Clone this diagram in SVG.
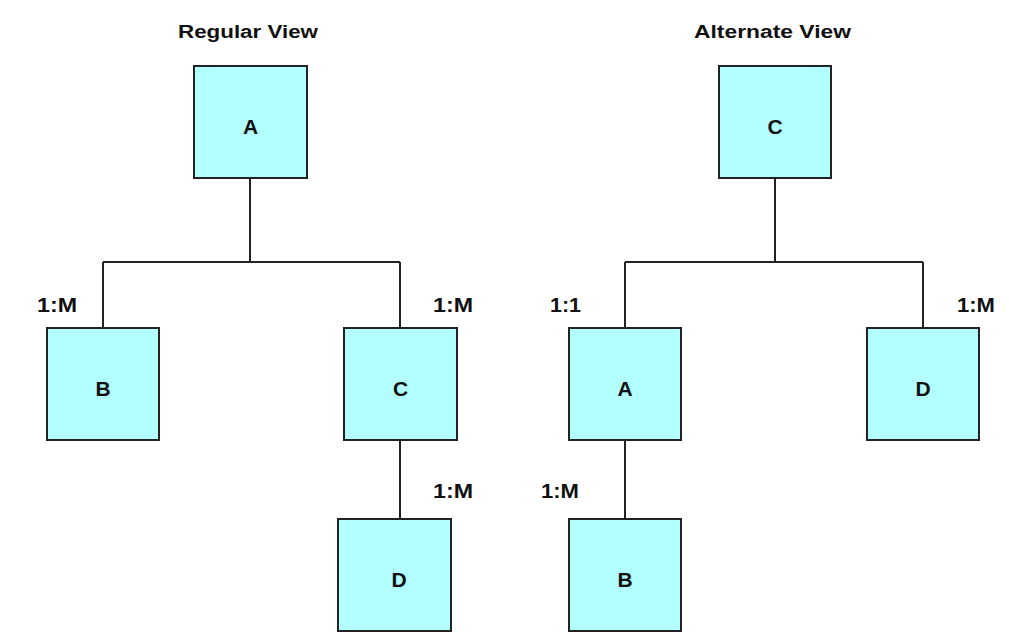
<svg xmlns="http://www.w3.org/2000/svg" width="1009" height="636" viewBox="0 0 1009 636">
<style>
.box{fill:#b3ffff;stroke:#222;stroke-width:2}
.ln{fill:none;stroke:#222;stroke-width:2}
.t{font-family:"Liberation Sans",Arial,sans-serif;font-weight:bold;fill:#111}
.title{font-size:18px}
.node{font-size:21px;text-anchor:middle}
.lab{font-size:20px}
</style>
<rect width="1009" height="636" fill="#fff"/>
<text class="t title" x="178" y="38" textLength="140" lengthAdjust="spacingAndGlyphs">Regular View</text>
<text class="t title" x="694" y="38" textLength="157" lengthAdjust="spacingAndGlyphs">Alternate View</text>
<g id="connectors">
<path class="ln" d="M250 178V262M103 262H400M103 262V328M400 262V328M400 440V519"/>
<path class="ln" d="M775 178V262M625 262H923M625 262V328M923 262V328M625 440V519"/>
</g>
<g id="labels">
<text class="t lab" x="37" y="312" textLength="40" lengthAdjust="spacingAndGlyphs">1:M</text>
<text class="t lab" x="433" y="312" textLength="40" lengthAdjust="spacingAndGlyphs">1:M</text>
<text class="t lab" x="433" y="498" textLength="40" lengthAdjust="spacingAndGlyphs">1:M</text>
<text class="t lab" x="550" y="312" textLength="31" lengthAdjust="spacingAndGlyphs">1:1</text>
<text class="t lab" x="541" y="498" textLength="38" lengthAdjust="spacingAndGlyphs">1:M</text>
<text class="t lab" x="957" y="312" textLength="38" lengthAdjust="spacingAndGlyphs">1:M</text>
</g>
<g id="reg-A"><rect class="box" x="194" y="66" width="113" height="112"/><text class="t node" x="250.5" y="134">A</text></g>
<g id="reg-B"><rect class="box" x="47" y="328" width="112" height="112"/><text class="t node" x="103" y="396">B</text></g>
<g id="reg-C"><rect class="box" x="344" y="328" width="113" height="112"/><text class="t node" x="400.5" y="396">C</text></g>
<g id="reg-D"><rect class="box" x="338" y="519" width="113" height="112"/><text class="t node" x="399" y="587">D</text></g>
<g id="alt-C"><rect class="box" x="719" y="66" width="112" height="112"/><text class="t node" x="775" y="134">C</text></g>
<g id="alt-A"><rect class="box" x="569" y="328" width="112" height="112"/><text class="t node" x="625" y="396">A</text></g>
<g id="alt-D"><rect class="box" x="867" y="328" width="112" height="112"/><text class="t node" x="923" y="396">D</text></g>
<g id="alt-B"><rect class="box" x="569" y="519" width="112" height="112"/><text class="t node" x="625" y="587">B</text></g>
</svg>
